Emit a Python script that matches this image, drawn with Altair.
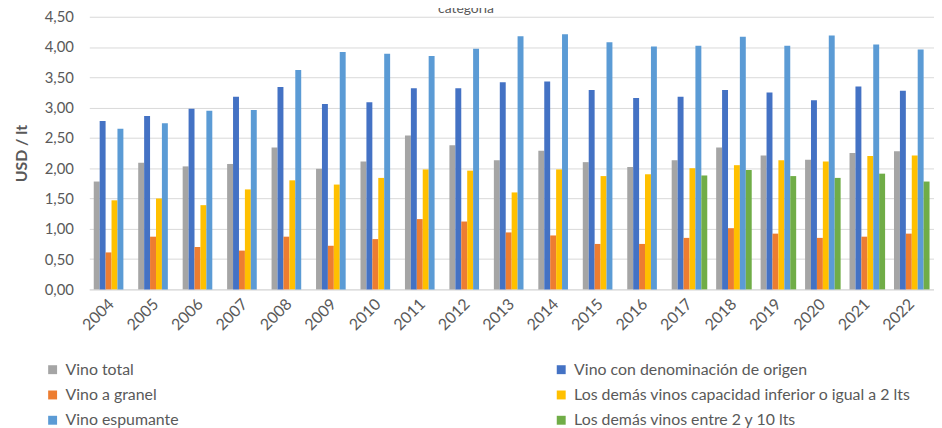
import altair as alt
import pandas as pd

years = [str(y) for y in range(2004, 2023)]

series_names = [
    "Vino total",
    "Vino con denominación de origen",
    "Vino a granel",
    "Los demás vinos capacidad inferior o igual a 2 lts",
    "Vino espumante",
    "Los demás vinos entre 2 y 10 lts",
]
series_colors = ["#A5A5A5", "#4472C4", "#ED7D31", "#FFC000", "#5B9BD5", "#70AD47"]

vino_total = [1.78, 2.09, 2.03, 2.07, 2.34, 1.99, 2.11, 2.54, 2.38, 2.13,
              2.29, 2.10, 2.02, 2.13, 2.34, 2.21, 2.14, 2.25, 2.28]
vino_do = [2.78, 2.86, 2.98, 3.18, 3.34, 3.06, 3.09, 3.32, 3.32, 3.42,
           3.43, 3.29, 3.16, 3.18, 3.29, 3.25, 3.12, 3.35, 3.28]
vino_granel = [0.61, 0.87, 0.70, 0.64, 0.87, 0.72, 0.83, 1.16, 1.12, 0.94,
               0.89, 0.75, 0.75, 0.85, 1.01, 0.92, 0.85, 0.87, 0.92]
vino_menor_2 = [1.47, 1.50, 1.39, 1.65, 1.80, 1.73, 1.84, 1.98, 1.96, 1.60,
                1.98, 1.87, 1.90, 2.00, 2.05, 2.13, 2.11, 2.20, 2.21]
vino_espumante = [2.65, 2.74, 2.95, 2.96, 3.62, 3.92, 3.89, 3.85, 3.97, 4.18,
                  4.21, 4.08, 4.01, 4.02, 4.17, 4.02, 4.19, 4.04, 3.96]
vino_2_10_years = ["2017", "2018", "2019", "2020", "2021", "2022"]
vino_2_10 = [1.88, 1.97, 1.87, 1.84, 1.91, 1.78]

y_ticks = [0, 0.5, 1.0, 1.5, 2.0, 2.5, 3.0, 3.5, 4.0, 4.5]

rows = []
for name, vals in zip(series_names[:5], [vino_total, vino_do, vino_granel, vino_menor_2, vino_espumante]):
    for yr, v in zip(years, vals):
        rows.append({"year": yr, "serie": name, "valor": v})
for yr, v in zip(vino_2_10_years, vino_2_10):
    rows.append({"year": yr, "serie": series_names[5], "valor": v})
df = pd.DataFrame(rows)

FONT = "Lato"
TXT = "#595959"
GRID = "#D9D9D9"

chart = alt.Chart(df).mark_bar().encode(
    x=alt.X("year:N", sort=years,
            scale=alt.Scale(paddingInner=0.2, paddingOuter=0.1),
            axis=alt.Axis(title=None, labelAngle=-45, labelAlign="right", labelBaseline="middle",
                          labelFontSize=16, labelColor=TXT, labelFont=FONT, ticks=False,
                          labelPadding=12, domainColor=GRID, domainWidth=1, grid=False)),
    xOffset=alt.XOffset("serie:N", sort=series_names, scale=alt.Scale(domain=series_names, paddingInner=0, paddingOuter=0)),
    y=alt.Y("valor:Q", scale=alt.Scale(domain=[0, 4.5], nice=False),
            axis=alt.Axis(title="USD / lt", values=y_ticks,
                          labelExpr="replace(format(datum.value, '.2f'), '.', ',')",
                          labelFontSize=15, labelColor=TXT, labelFont=FONT, labelPadding=16,
                          ticks=False, domain=False, gridColor=GRID, gridWidth=1,
                          titleFont=FONT, titleFontSize=16, titleFontWeight="bold", titleColor=TXT,
                          titleX=-68, titleY=137.5, titleAngle=-90, titleAlign="center",
                          titleBaseline="middle")),
    color=alt.Color("serie:N", sort=series_names,
                    scale=alt.Scale(domain=series_names, range=series_colors),
                    legend=alt.Legend(title=None, orient="none", legendX=-45, legendY=348,
                                      columns=2, direction="horizontal", columnPadding=377,
                                      rowPadding=9.5, symbolType="square", symbolSize=81,
                                      symbolStrokeWidth=0, symbolOpacity=1, labelFontSize=16,
                                      labelFont=FONT, labelColor=TXT, labelLimit=600,
                                      labelOffset=5)),
).properties(
    width=852,
    height=275,
    title=alt.TitleParams("categoría", anchor="middle", frame="group", fontSize=14,
                          font=FONT, fontWeight="normal", color=TXT, offset=4, dx=-46, dy=21,
                          baseline="alphabetic"),
    autosize=alt.AutoSizeParams(type="none"),
    padding={"left": 82, "top": 7, "right": 0, "bottom": 138},
).configure_view(stroke=None)

chart.save("out.html", embed_options={"renderer": "svg", "actions": False})
